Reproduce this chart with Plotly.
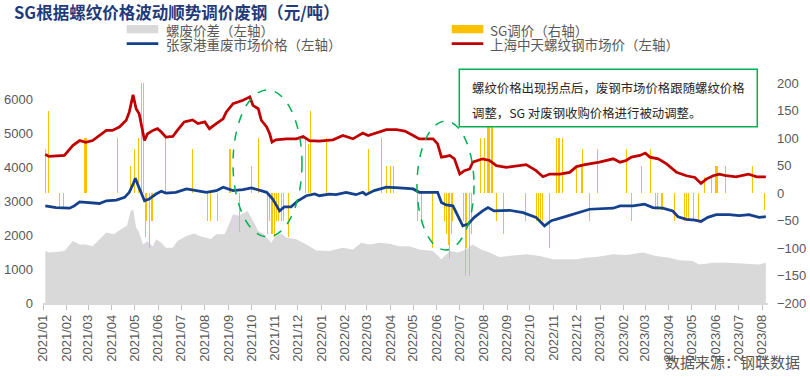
import plotly.graph_objects as go

# ---------------- data ----------------
red_dates = ["2021-01-04","2021-01-09","2021-01-29","2021-02-09","2021-02-18","2021-02-26","2021-03-07","2021-03-16",
             "2021-03-25","2021-04-02","2021-04-11","2021-04-20","2021-04-24","2021-04-29","2021-05-03","2021-05-07",
             "2021-05-12","2021-05-14","2021-05-18","2021-05-25","2021-05-31","2021-06-05","2021-06-11","2021-06-20",
             "2021-06-26","2021-07-05","2021-07-16","2021-07-23","2021-08-01","2021-08-07","2021-08-16","2021-08-25",
             "2021-08-29","2021-09-07","2021-09-20","2021-09-29","2021-10-03","2021-10-10","2021-10-14","2021-10-21",
             "2021-10-25","2021-10-28","2021-11-02","2021-11-16","2021-11-29","2021-12-08","2021-12-16","2021-12-29",
             "2022-01-16","2022-01-29","2022-02-11","2022-02-24","2022-03-03","2022-03-14","2022-03-27","2022-04-09",
             "2022-04-20","2022-05-01","2022-05-09","2022-05-18","2022-05-27","2022-06-02","2022-06-07","2022-06-13",
             "2022-06-18","2022-06-24","2022-07-01","2022-07-07","2022-07-14","2022-07-18","2022-07-31","2022-08-09",
             "2022-08-18","2022-08-31","2022-09-13","2022-09-26","2022-10-09","2022-10-18","2022-10-27","2022-11-09",
             "2022-11-22","2022-12-01","2022-12-12","2022-12-31","2023-01-18","2023-01-27","2023-02-04","2023-02-11",
             "2023-02-22","2023-03-01","2023-03-07","2023-03-18","2023-03-29","2023-04-11","2023-04-24","2023-05-05",
             "2023-05-13","2023-05-20","2023-05-29","2023-06-06","2023-06-15","2023-06-28","2023-07-14","2023-07-25",
             "2023-08-06"]
red_vals = [4390,4330,4360,4650,4800,4750,4800,4950,
            5100,5100,5200,5400,5640,6150,5740,5590,
            5050,4800,5000,5100,5150,5050,4900,4920,
            5100,5350,5410,5300,5350,5150,5300,5440,
            5640,5890,5990,6090,5840,5740,5400,5200,
            5000,4750,4820,4850,4850,4920,4800,4780,
            4820,4950,4850,5020,4950,5020,5120,5120,
            5080,4950,4850,4850,4850,4700,4310,4330,
            4360,4260,3810,3910,3960,4160,4260,4210,
            4060,4010,4060,4090,3910,3730,3810,3810,
            3860,4030,4090,4160,4260,4160,4210,4310,
            4360,4430,4310,4260,4110,3860,3760,3710,
            3530,3660,3760,3810,3760,3730,3810,3730,
            3730]

blue_dates = ["2021-01-04","2021-01-18","2021-02-05","2021-02-11","2021-02-18","2021-03-03","2021-03-16","2021-03-25",
              "2021-04-07","2021-04-18","2021-04-24","2021-04-29","2021-05-02","2021-05-05","2021-05-10","2021-05-14",
              "2021-05-20","2021-05-29","2021-06-05","2021-06-11","2021-06-24","2021-07-08","2021-07-21","2021-08-03",
              "2021-08-16","2021-08-25","2021-09-07","2021-09-20","2021-10-01","2021-10-10","2021-10-21","2021-10-29",
              "2021-11-07","2021-11-13","2021-11-22","2021-12-01","2021-12-12","2021-12-23","2021-12-29","2022-01-11",
              "2022-01-20","2022-02-02","2022-02-15","2022-02-24","2022-02-28","2022-03-11","2022-03-27","2022-04-13",
              "2022-05-01","2022-05-09","2022-05-27","2022-06-02","2022-06-07","2022-06-13","2022-06-22","2022-06-29",
              "2022-07-05","2022-07-12","2022-07-20","2022-07-31","2022-08-07","2022-08-15","2022-08-26","2022-09-04",
              "2022-09-22","2022-10-09","2022-10-20","2022-10-29","2022-11-13","2022-11-26","2022-12-09","2022-12-18",
              "2023-01-18","2023-01-27","2023-02-13","2023-02-28","2023-03-11","2023-03-24","2023-04-06","2023-04-13",
              "2023-04-24","2023-05-05","2023-05-13","2023-05-22","2023-06-02","2023-06-19","2023-07-02","2023-07-15",
              "2023-07-28","2023-08-06"]
blue_vals = [2870,2820,2800,2870,2990,2970,2940,3020,
             3040,3120,3270,3510,3690,3510,3220,3020,
             3070,3220,3300,3250,3270,3370,3320,3270,
             3320,3420,3320,3350,3400,3350,3270,3070,
             2720,2840,2840,3020,3170,3220,3170,3220,
             3200,3270,3200,3270,3200,3320,3420,3400,
             3370,3270,3270,3270,2970,2900,2870,2530,
             2280,2330,2530,2720,2820,2720,2720,2740,
             2670,2530,2280,2430,2530,2620,2720,2770,
             2800,2870,2870,2920,2820,2800,2720,2550,
             2470,2450,2410,2530,2610,2610,2580,2610,
             2530,2550]

gray_dates = ["2021-01-04","2021-01-09","2021-01-29","2021-02-09","2021-02-18","2021-02-26","2021-03-07","2021-03-16",
              "2021-03-25","2021-04-04","2021-04-13","2021-04-21","2021-04-26","2021-04-29","2021-05-03","2021-05-07",
              "2021-05-12","2021-05-18","2021-05-25","2021-05-29","2021-06-05","2021-06-11","2021-06-20","2021-06-26",
              "2021-07-08","2021-07-18","2021-07-25","2021-08-03","2021-08-09","2021-08-16","2021-08-27","2021-08-31",
              "2021-09-07","2021-09-15","2021-09-26","2021-10-03","2021-10-10","2021-10-18","2021-10-27","2021-11-02",
              "2021-11-09","2021-11-16","2021-11-29","2021-12-12","2021-12-25","2022-01-11","2022-01-29","2022-02-11",
              "2022-02-22","2022-03-05","2022-03-18","2022-03-31","2022-04-13","2022-04-26","2022-05-09","2022-05-27",
              "2022-06-07","2022-06-18","2022-06-29","2022-07-09","2022-07-18","2022-07-29","2022-08-09","2022-08-22",
              "2022-09-09","2022-09-26","2022-10-14","2022-10-31","2022-11-18","2022-12-01","2022-12-12","2022-12-27",
              "2023-01-18","2023-02-04","2023-02-26","2023-03-15","2023-04-02","2023-04-15","2023-05-02","2023-05-11",
              "2023-05-29","2023-06-19","2023-07-11","2023-07-28","2023-08-06"]
gray_vals = [1540,1490,1540,1830,1730,1730,1680,1880,
             2080,2030,2180,2280,2720,2770,2230,2080,
             1730,1830,1680,1880,1780,1630,1630,1830,
             1980,2050,1980,1930,1880,2030,2030,2230,
             2620,2580,2720,2430,2130,2030,1780,1980,
             2050,1930,1880,1730,1550,1540,1630,1580,
             1780,1730,1780,1750,1680,1680,1580,1540,
             1290,1540,1490,1580,1730,1580,1490,1360,
             1390,1440,1390,1290,1290,1290,1340,1360,
             1440,1420,1490,1390,1340,1260,1240,1140,
             1190,1190,1160,1140,1190]

sg_dates = ["2021-01-04","2021-01-08","2021-01-22","2021-01-28","2021-02-25","2021-02-27","2021-04-09","2021-04-26",
            "2021-05-01","2021-05-06","2021-05-10","2021-05-13","2021-05-15","2021-05-17","2021-05-20","2021-05-23",
            "2021-05-24","2021-06-11","2021-07-16","2021-08-05","2021-08-08","2021-08-18","2021-09-03","2021-09-16",
            "2021-10-01","2021-10-10","2021-10-22","2021-10-25","2021-10-28","2021-10-31","2021-11-03","2021-11-06",
            "2021-11-09","2021-11-12","2021-11-18","2021-12-11","2021-12-15","2021-12-18","2022-01-07","2022-03-04",
            "2022-03-20","2022-03-27","2022-04-01","2022-04-05","2022-05-07","2022-05-12","2022-05-26","2022-06-11",
            "2022-06-13","2022-06-16","2022-06-18","2022-06-20","2022-06-22","2022-07-06","2022-07-08","2022-07-10",
            "2022-07-14","2022-07-16","2022-07-28","2022-08-02","2022-08-07","2022-08-09","2022-08-11","2022-08-13",
            "2022-08-18","2022-08-27","2022-09-25","2022-10-09","2022-10-12","2022-10-15","2022-10-18","2022-10-27",
            "2022-11-05","2022-11-07","2022-11-09","2022-11-12","2022-12-01","2022-12-07","2022-12-09","2022-12-18",
            "2022-12-29","2023-02-04","2023-02-11","2023-02-24","2023-03-08","2023-03-15","2023-03-17","2023-03-22",
            "2023-03-24","2023-04-08","2023-04-22","2023-04-24","2023-04-27","2023-05-03","2023-05-10","2023-05-18",
            "2023-05-27","2023-06-01","2023-06-03","2023-06-14","2023-07-20","2023-08-04"]
sg_vals = [80,150,-25,-25,100,100,100,50,
           80,100,200,200,-80,-50,-100,-50,
           -50,100,80,-50,-50,-50,80,-70,
           50,100,-75,-50,-75,-80,-50,-50,
           -50,-50,-80,100,90,150,100,80,
           100,50,50,50,-50,-50,-100,-50,
           -75,-95,-120,-75,-50,-50,-150,-100,
           -150,-75,100,100,150,150,150,150,
           -50,-75,-50,-50,-50,-50,-50,-100,
           100,100,100,100,50,50,80,-50,
           80,80,-50,50,80,-30,-30,-30,
           -30,-50,-50,-50,-50,-50,-50,30,
           30,50,50,50,50,-30]

# ---------------- layout helpers (pixel -> paper) ----------------
W, H = 810, 377
L, R, T, B = 43, 768, 83, 303


def px(x):
    return (x - L) / (R - L)


def py(y):
    return (B - y) / (B - T)


CJK = "Noto Sans CJK SC"
NUM = "Liberation Sans"
GREY_TXT = "#595959"
RED = "#C00000"
BLUE = "#14408C"
ORANGE = "#FFC000"
AREA = "#D9D9D9"
GREEN = "#00B050"

fig = go.Figure()
fig.add_trace(go.Scatter(x=gray_dates, y=gray_vals, yaxis="y", mode="lines", fill="tozeroy",
                         line=dict(width=0, color=AREA), fillcolor=AREA, name="螺废价差（左轴）",
                         showlegend=False))
fig.add_trace(go.Bar(x=sg_dates, y=sg_vals, yaxis="y2", width=1.35 * 86400000,
                     marker=dict(color=ORANGE, line=dict(width=0)), name="SG调价（右轴）",
                     showlegend=False))
fig.add_trace(go.Scatter(x=blue_dates, y=blue_vals, yaxis="y3", mode="lines",
                         line=dict(color=BLUE, width=2.75), name="张家港重废市场价格（左轴）",
                         showlegend=False))
fig.add_trace(go.Scatter(x=red_dates, y=red_vals, yaxis="y3", mode="lines",
                         line=dict(color=RED, width=2.75), name="上海中天螺纹钢市场价（左轴）",
                         showlegend=False))

tickfont = dict(family=NUM, size=13, color=GREY_TXT)

shapes = [
    # legend swatches
    dict(type="rect", xref="paper", yref="paper", x0=px(126.7), x1=px(158.3), y0=py(33.3), y1=py(25),
         fillcolor=AREA, line=dict(width=0), layer="above"),
    dict(type="line", xref="paper", yref="paper", x0=px(126.7), x1=px(158.3), y0=py(43.5), y1=py(43.5),
         line=dict(color=BLUE, width=2.75), layer="above"),
    dict(type="rect", xref="paper", yref="paper", x0=px(451.7), x1=px(483.3), y0=py(33.3), y1=py(25),
         fillcolor=ORANGE, line=dict(width=0), layer="above"),
    dict(type="line", xref="paper", yref="paper", x0=px(451.7), x1=px(483.3), y0=py(43.5), y1=py(43.5),
         line=dict(color=RED, width=2.75), layer="above"),
    # note box
    dict(type="rect", xref="paper", yref="paper", x0=px(459.3), x1=px(757.3), y0=py(126.7), y1=py(69.3),
         fillcolor="white", line=dict(color=GREEN, width=1.5), layer="above"),
    # dashed ellipses
    dict(type="circle", xref="paper", yref="paper", x0=px(233), x1=px(302), y0=py(237), y1=py(90),
         line=dict(color=GREEN, width=1.5, dash="dash"), layer="above"),
    dict(type="circle", xref="paper", yref="paper", x0=px(417), x1=px(474), y0=py(250), y1=py(121),
         line=dict(color=GREEN, width=1.5, dash="dash"), layer="above"),
]


def txt(x, y, s, size, color=GREY_TXT, anchor="left", family=CJK):
    return dict(xref="paper", yref="paper", x=px(x), y=py(y), text=s, showarrow=False,
                xanchor=anchor, yanchor="middle", font=dict(family=family, size=size, color=color))


annotations = [
    txt(12, 11.5, "<b>SG根据螺纹价格波动顺势调价废钢（元/吨）</b>", 16.5, color="#1F3B7A"),
    txt(164, 29.8, "螺废价差（左轴）", 13.5),
    txt(164, 43.8, "张家港重废市场价格（左轴）", 13.5),
    txt(488, 29.8, "SG调价（右轴）", 13.5),
    txt(488, 43.8, "上海中天螺纹钢市场价（左轴）", 13.5),
    txt(470, 88.3, "螺纹价格出现拐点后，废钢市场价格跟随螺纹价格", 12.4, color="#262626"),
    txt(470, 112.7, "调整，SG 对废钢收购价格进行被动调整。", 12.4, color="#262626"),
    txt(802, 361.5, "数据来源：钢联数据", 15, anchor="right"),
]

fig.update_layout(
    width=W, height=H,
    margin=dict(l=L, r=W - R, t=T, b=H - B, pad=0, autoexpand=False),
    paper_bgcolor="white", plot_bgcolor="white",
    showlegend=False,
    bargap=0,
    hovermode=False,
    xaxis=dict(type="date", range=["2021-01-01", "2023-08-08 20:00"], automargin=False,
               tick0="2021-01-01", dtick="M1", tickformat="%Y/%m", tickangle=-90,
               ticks="outside", ticklen=5, tickcolor="#BFBFBF", tickwidth=1,
               showline=True, linecolor=AREA, linewidth=1.5,
               showgrid=False, zeroline=False, tickfont=tickfont),
    yaxis=dict(range=[0, 6500], tick0=0, dtick=1000, showgrid=False, zeroline=False, automargin=False,
               showline=False, ticks="", tickfont=tickfont, ticklabelstandoff=9),
    yaxis2=dict(overlaying="y", side="right", range=[-200, 200], tick0=-200, dtick=50, automargin=False,
                showgrid=False, zeroline=False, showline=False, ticks="", tickfont=tickfont,
                ticklabelstandoff=8),
    yaxis3=dict(overlaying="y", range=[0, 6500], visible=False, automargin=False),
    shapes=shapes,
    annotations=annotations,
)

# remove the browser's default 8px body margin so the 810x377 figure fills the window exactly
fig.write_html("out.html",
               config={"displayModeBar": False, "staticPlot": True},
               post_script="document.body.style.margin='0px';document.body.style.overflow='hidden';")
